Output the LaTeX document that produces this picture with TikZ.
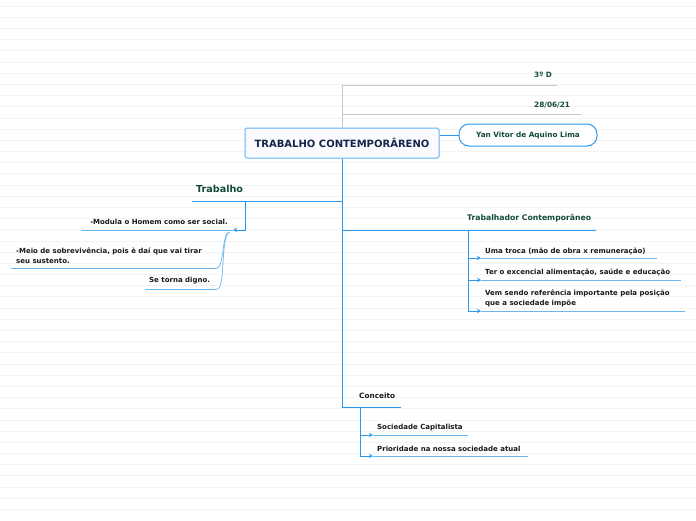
\documentclass[tikz,border=0pt]{standalone}
\usepackage{fontspec}
\setmainfont{DejaVu Sans}
\usetikzlibrary{arrows.meta}
\definecolor{bline}{HTML}{2A98EE}
\definecolor{lline}{HTML}{6CB8F0}
\definecolor{topicg}{HTML}{114B38}
\definecolor{navy}{HTML}{14254A}
\definecolor{gline}{HTML}{C8C8C8}
\definecolor{rule}{HTML}{F3F3F3}
\tikzset{
  trunk/.style={draw=bline, line width=0.95pt},
  uline/.style={draw=lline, line width=0.8pt},
  grayln/.style={draw=gline, line width=1pt},
  arr/.style={-{Stealth[length=4pt,width=4pt]}},
  item/.style={anchor=west, inner sep=0pt, font=\bfseries\fontsize{7}{10}\selectfont, text=black!90, align=left},
  topic/.style={anchor=west, inner sep=0pt, font=\bfseries\fontsize{7.7}{10}\selectfont, text=topicg},
  bigtopic/.style={anchor=west, inner sep=0pt, font=\bfseries\fontsize{9.6}{12}\selectfont, text=topicg},
  rootbox/.style={draw=bline!75, fill=blue!2, line width=1pt, rounded corners=1.5pt, minimum width=194pt, minimum height=30pt, inner sep=0pt, font=\bfseries\fontsize{10}{12}\selectfont, text=navy},
  pill/.style={draw=bline, fill=white, line width=1pt, rounded corners=10pt, minimum width=138pt, minimum height=22pt, inner sep=0pt, font=\bfseries\fontsize{7.3}{10}\selectfont, text=topicg}
}
\begin{document}
\begin{tikzpicture}[x=1pt,y=-1pt]
\fill[white] (0,0) rectangle (696,520);
\useasboundingbox (0,0) rectangle (696,520);
\foreach \k in {0,...,45} \draw[rule, line width=0.7pt] (0,6+11.185*\k) -- (696,6+11.185*\k);

% root
\node[rootbox] (root) at (342,143) {TRABALHO CONTEMPORÂRENO};

% gray floating labels
\node[topic, font=\bfseries\fontsize{7.3}{10}\selectfont] (d3) at (534,75) {3º D};
\node[topic, font=\bfseries\fontsize{7.3}{10}\selectfont] (date) at (534,105) {28/06/21};
\coordinate (g1) at (557,85);
\coordinate (g2) at (581,114);
\coordinate (gtop) at (342,85);
\draw[grayln] (root.north) -- (gtop) -- (g1);
\draw[grayln] (root.north |- g2) -- (g2);

% Yan
\node[pill] (yan) at (528,135) {Yan Vitor de Aquino Lima};
\draw[trunk] (root.east |- yan.west) -- (yan.west);

% trunk
\coordinate (tTrab) at (342,201);
\coordinate (tTC) at (342,230);
\coordinate (tCon) at (342,407);
\draw[trunk] (root.south) -- (tCon);

% Trabalho
\node[bigtopic] (trab) at (196,189) {Trabalho};
\coordinate (trabL) at (192,201);
\coordinate (trabJ) at (245,201);
\coordinate (trabA) at (233,230);
\draw[trunk] (tTrab) -- (trabL);
\draw[trunk, arr] (trabJ) |- (trabA);

\node[item, anchor=east] (m1) at (228,222) {-Modula o Homem como ser social.};
\coordinate (m1L) at (81,230);
\draw[uline] (m1L) -- (trabA);

\node[item] (m2) at (16,256) {-Meio de sobrevivência, pois è daí que vai tirar\\seu sustento.};
\coordinate (m2L) at (11,268);
\coordinate (m2R) at (217,268);
\draw[uline] (m2L) -- (m2R);
\draw[draw=lline, line width=0.7pt] (m2R) .. controls (224,268) and (222,233) .. (229,232);

\node[item] (m3) at (149,281) {Se torna digno.};
\coordinate (m3L) at (145,289);
\coordinate (m3R) at (217,289);
\draw[uline] (m3L) -- (m3R);
\draw[draw=lline, line width=0.7pt] (m3R) .. controls (226,289) and (220,234) .. (230,232);

% Trabalhador Contemporaneo
\node[topic] (tc) at (467,218) {Trabalhador Contemporâneo};
\coordinate (tcR) at (596,230);
\coordinate (tcJ) at (468,230);
\draw[trunk] (tTC) -- (tcR);
\coordinate (a1) at (481,258);
\coordinate (a2) at (481,280);
\coordinate (a3) at (481,311);
\draw[trunk, arr] (tcJ) |- (a1);
\draw[trunk, arr] (tcJ) |- (a2);
\draw[trunk, arr] (tcJ) |- (a3);
\node[item] (t1) at (485,251) {Uma troca (mão de obra x remuneração)};
\node[item] (t2) at (485,272) {Ter o excencial alimentação, saúde e educação};
\node[item] (t3) at (485,298) {Vem sendo referência importante pela posição\\que a sociedade impõe};
\coordinate (u1) at (657,258);
\coordinate (u2) at (681,280);
\coordinate (u3) at (685,311);
\draw[uline] (a1) -- (u1);
\draw[uline] (a2) -- (u2);
\draw[uline] (a3) -- (u3);

% Conceito
\node[item, font=\bfseries\fontsize{7.3}{10}\selectfont] (con) at (359,396) {Conceito};
\coordinate (conR) at (401,407);
\coordinate (conJ) at (360,407);
\draw[trunk] (tCon) -- (conR);
\coordinate (c1) at (373,435);
\coordinate (c2) at (373,456);
\draw[trunk, arr] (conJ) |- (c1);
\draw[trunk, arr] (conJ) |- (c2);
\node[item] (s1) at (377,428) {Sociedade Capitalista};
\node[item] (s2) at (377,449) {Prioridade na nossa sociedade atual};
\coordinate (v1) at (468,435);
\coordinate (v2) at (528,456);
\draw[uline] (c1) -- (v1);
\draw[uline] (c2) -- (v2);
\end{tikzpicture}
\end{document}
